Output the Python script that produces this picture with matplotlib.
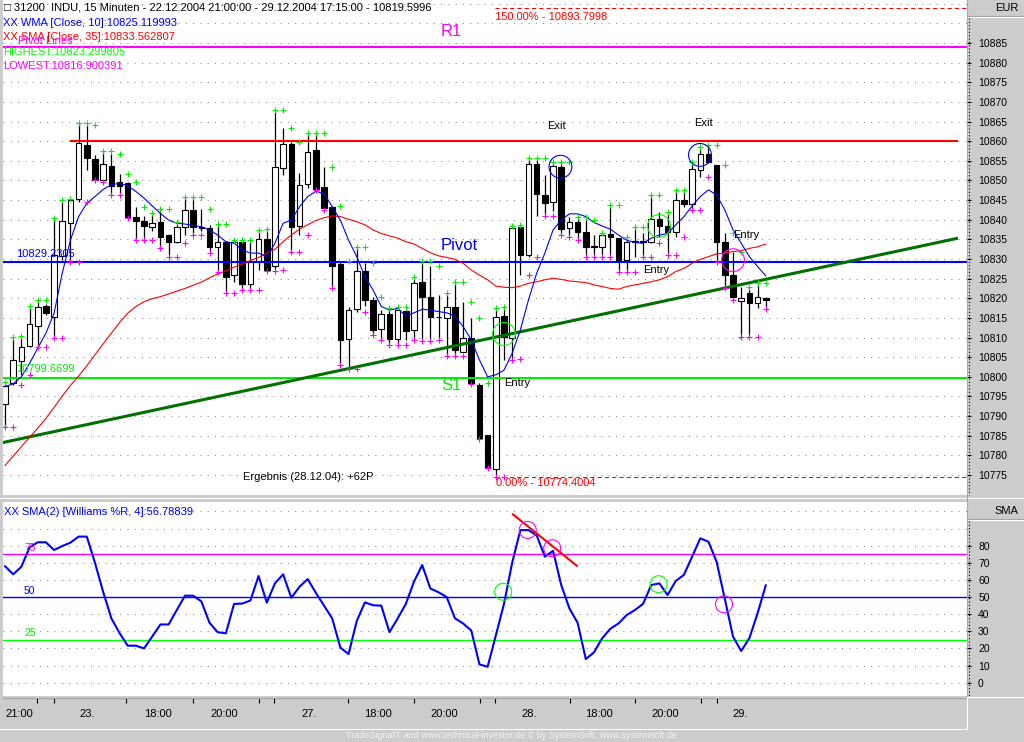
import numpy as np
import pandas as pd
import matplotlib
matplotlib.use('Agg')
import matplotlib.pyplot as plt
from matplotlib.lines import Line2D

# ---------------- data ----------------
opens = [10793.1, 10798.3, 10803.9, 10807.9, 10813.0, 10818.0, 10815.3, 10830.8, 10839.1, 10845.3,
         10859.0, 10855.4, 10850.0, 10853.7, 10849.7, 10849.3, 10840.8, 10839.7, 10838.2, 10839.3,
         10836.1, 10834.4, 10838.1, 10842.5, 10838.2, 10837.8, 10833.1, 10834.3, 10825.9, 10834.3,
         10823.6, 10829.6, 10835.2, 10828.2, 10853.1, 10859.3, 10838.5, 10849.0, 10857.8, 10848.3,
         10843.2, 10828.7, 10809.5, 10817.2, 10827.0, 10819.6, 10812.1, 10815.9, 10809.7, 10816.8,
         10811.9, 10824.1, 10820.2, 10815.3, 10814.9, 10817.9, 10806.4, 10809.8, 10797.9, 10785.2,
         10776.5, 10815.5, 10809.8, 10838.2, 10830.9, 10854.2, 10846.3, 10844.4, 10853.5, 10837.8,
         10839.5, 10836.8, 10833.4, 10833.1, 10836.4, 10835.3, 10829.8, 10834.3, 10834.5, 10834.2,
         10840.2, 10838.5, 10836.8, 10845.0, 10843.9, 10852.7, 10856.7, 10853.9, 10834.4, 10825.9,
         10819.4, 10821.3, 10818.7, 10820.0]
highs = [10798.8, 10810.1, 10810.4, 10818.1, 10819.6, 10818.5, 10840.4, 10845.0, 10845.2, 10864.6,
         10864.1, 10856.5, 10857.6, 10856.7, 10851.7, 10849.6, 10843.3, 10841.0, 10841.6, 10842.7,
         10836.3, 10839.5, 10845.9, 10845.9, 10842.7, 10838.7, 10838.9, 10834.6, 10834.8, 10834.8,
         10834.8, 10837.4, 10837.6, 10868.0, 10863.3, 10859.7, 10852.0, 10862.0, 10862.0, 10853.5,
         10843.5, 10829.5, 10817.9, 10833.1, 10829.0, 10820.4, 10817.0, 10817.4, 10817.7, 10817.0,
         10825.5, 10829.6, 10828.1, 10820.8, 10821.3, 10824.2, 10819.1, 10814.9, 10798.5, 10785.2,
         10817.4, 10817.7, 10838.5, 10838.7, 10855.6, 10855.6, 10851.4, 10854.8, 10854.8, 10840.8,
         10840.6, 10840.0, 10836.1, 10836.5, 10843.8, 10835.3, 10835.7, 10838.2, 10836.5, 10846.3,
         10841.9, 10841.6, 10847.6, 10847.6, 10854.8, 10858.6, 10859.0, 10854.0, 10836.5, 10831.9,
         10822.8, 10822.8, 10823.8, 10820.2]
lows = [10787.3, 10797.9, 10800.4, 10807.7, 10807.7, 10815.7, 10809.8, 10829.8, 10829.3, 10844.6,
        10852.7, 10850.0, 10849.7, 10846.3, 10846.3, 10840.4, 10834.8, 10834.8, 10837.2, 10832.7,
        10830.6, 10834.0, 10836.1, 10836.1, 10837.0, 10831.6, 10826.8, 10821.3, 10824.2, 10822.1,
        10822.1, 10827.2, 10826.9, 10827.2, 10851.4, 10831.9, 10836.2, 10848.0, 10847.6, 10842.5,
        10822.7, 10803.0, 10801.9, 10816.5, 10818.0, 10810.7, 10809.4, 10808.1, 10808.1, 10809.4,
        10809.4, 10809.2, 10809.4, 10809.4, 10805.3, 10805.3, 10806.4, 10798.1, 10784.2, 10776.7,
        10774.4, 10804.3, 10804.5, 10825.9, 10830.6, 10841.0, 10841.0, 10842.1, 10836.1, 10835.5,
        10834.8, 10830.6, 10830.6, 10830.6, 10830.6, 10826.8, 10826.8, 10830.6, 10830.6, 10834.0,
        10835.7, 10831.0, 10835.7, 10843.3, 10842.5, 10850.8, 10854.4, 10829.3, 10822.5, 10819.6,
        10810.1, 10810.1, 10817.4, 10817.2]
closes = [10797.7, 10804.2, 10807.7, 10813.4, 10817.7, 10816.2, 10830.9, 10839.7, 10845.0, 10859.5,
          10855.6, 10850.1, 10854.2, 10848.6, 10848.6, 10840.8, 10839.8, 10838.5, 10839.1, 10835.5,
          10834.4, 10838.1, 10842.5, 10838.1, 10838.0, 10833.1, 10834.3, 10825.5, 10834.3, 10823.6,
          10829.6, 10835.0, 10827.2, 10853.5, 10859.2, 10838.2, 10848.8, 10857.3, 10847.7, 10843.1,
          10828.3, 10809.4, 10817.0, 10827.0, 10819.6, 10811.8, 10815.9, 10809.7, 10817.0, 10811.7,
          10824.0, 10820.2, 10815.3, 10815.2, 10817.9, 10806.8, 10809.8, 10798.3, 10784.3, 10776.7,
          10815.2, 10810.2, 10838.0, 10831.0, 10854.2, 10846.5, 10844.2, 10853.7, 10837.6, 10839.5,
          10836.8, 10833.1, 10833.1, 10836.1, 10835.5, 10829.8, 10834.4, 10834.5, 10834.3, 10840.2,
          10838.5, 10836.8, 10845.0, 10843.9, 10852.9, 10856.7, 10854.6, 10834.4, 10825.8, 10820.4,
          10820.0, 10818.7, 10820.2, 10819.6]
wma10 = [10797.5, 10798.2, 10800.0, 10803.4, 10807.3, 10811.1, 10816.2, 10826.4, 10834.8, 10840.8,
         10844.2, 10845.9, 10847.7, 10848.9, 10849.3, 10848.6, 10847.2, 10845.5, 10843.5, 10841.6,
         10839.9, 10839.1, 10838.9, 10838.5, 10838.2, 10837.4, 10836.1, 10834.4, 10834.0, 10832.3,
         10831.5, 10831.5, 10830.6, 10834.0, 10839.1, 10839.9, 10843.3, 10845.9, 10847.2, 10846.7,
         10843.3, 10839.9, 10834.8, 10830.6, 10825.5, 10822.1, 10817.9, 10817.0, 10817.4, 10815.5,
         10816.3, 10817.2, 10817.0, 10816.6, 10816.3, 10815.5, 10812.8, 10809.4, 10804.3, 10800.0,
         10800.5, 10801.7, 10806.0, 10811.9, 10819.6, 10826.4, 10831.5, 10837.4, 10839.9, 10841.5,
         10841.5, 10840.8, 10839.3, 10838.4, 10837.6, 10836.1, 10834.8, 10834.2, 10834.0, 10835.3,
         10836.1, 10836.5, 10838.7, 10840.8, 10843.5, 10845.9, 10847.6, 10846.3, 10842.5, 10837.4,
         10834.0, 10830.6, 10828.1, 10825.7]
sma35 = [10777.4, 10779.8, 10782.2, 10784.6, 10786.9, 10789.4, 10792.2, 10795.1, 10797.8, 10800.2,
         10802.8, 10805.6, 10808.4, 10811.1, 10813.8, 10816.2, 10817.9, 10819.1, 10819.9, 10820.4,
         10821.1, 10821.8, 10822.5, 10823.3, 10824.1, 10825.2, 10826.2, 10827.0, 10827.9, 10828.7,
         10829.6, 10830.4, 10831.5, 10832.5, 10834.4, 10836.1, 10837.6, 10838.7, 10839.8, 10840.5,
         10841.0, 10840.8, 10840.1, 10839.5, 10838.7, 10837.4, 10836.5, 10835.9, 10835.3, 10834.4,
         10833.8, 10832.7, 10831.6, 10830.8, 10830.4, 10829.9, 10828.9, 10827.2, 10825.9, 10824.7,
         10823.1, 10822.8, 10822.7, 10823.1, 10823.8, 10824.2, 10824.7, 10825.1, 10824.8, 10824.4,
         10824.2, 10824.0, 10823.4, 10823.0, 10822.5, 10822.3, 10823.0, 10823.4, 10823.8, 10824.2,
         10824.7, 10825.5, 10826.8, 10827.6, 10828.9, 10829.9, 10830.6, 10831.3, 10831.5, 10831.9,
         10832.1, 10832.7, 10833.1, 10833.8]
willr_sma2 = [68, 63.3, 67.7, 79, 82, 82, 77.5, 79.8, 81.8, 85.3,
              85.3, 70, 53, 37.6, 29, 21.6, 21.6, 20, 27, 34,
              34, 42.4, 50.8, 50.8, 47.5, 35, 29.5, 28.8, 46, 46.2,
              48, 62.3, 46.7, 58, 63.3, 49.6, 56, 60.5, 52.5, 45,
              37.5, 20.5, 16.7, 36, 46.9, 45.2, 45, 29.5, 37.5, 46,
              59, 68.7, 55, 52.8, 50, 37.6, 34.6, 30.5, 10.7, 9.3,
              27.5, 46, 70, 89.1, 89.1, 86, 73.6, 77, 57, 43.4,
              35, 13.8, 17.7, 25.9, 31.5, 34.6, 39.5, 42.4, 46, 57,
              58, 51.2, 59.4, 63, 73.6, 84.3, 82.3, 70.5, 48.9, 26.9,
              18.5, 26, 40.5, 56.8]

R1 = 10884.0
pivot = 10829.2305
S1 = 10799.6699
resistance = 10860.0
resistance_span = [7.95, 116.5]
fib_150 = 10893.7998
fib_0 = 10774.4004
fib_start = 59.9
trend_x = [-0.61, 116.5]
trend_y = [10783.1, 10835.3]

main_circ_x = [61.0, 67.9, 79.95, 84.96, 89.0]
main_circ_y = [10810.9, 10853.5, 10838.4, 10856.5, 10829.7]
main_circ_c = ['#00ff00', '#0000ff', '#00ff00', '#0000ff', '#ff00ff']
ind_circ_x = [60.9, 63.9, 66.9, 79.9, 87.9]
ind_circ_y = [53.1, 89.2, 78.5, 57.5, 45.8]
ind_circ_c = ['#00ff00', '#ff00ff', '#ff00ff', '#00ff00', '#ff00ff']
ind_red_x = [62.1, 69.9]
ind_red_y = [98.3, 68.3]

time_ticks = [3.91, 5.99, 14.79, 22.98, 31.05, 32.89, 41.93, 50.0, 58.07, 59.9, 69.07, 77.02, 85.09, 87.04]
time_label_pos = [1.8, 10.1, 18.7, 26.8, 37.2, 45.6, 53.7, 64.1, 72.6, 80.7, 89.9]
time_labels = ['21:00', '23.', '18:00', '20:00', '27.', '18:00', '20:00', '28.', '18:00', '20:00', '29.']

price_ticks = list(range(10775, 10890, 5))
price_grid = list(range(10775, 10900, 5))
ind_ticks = list(range(0, 90, 10))
ind_grid = list(range(0, 110, 10))

# ---------------- figure ----------------
W, H = 1024, 742
BG = '#cccccc'
NARROW = ['Liberation Sans Narrow', 'DejaVu Sans Condensed', 'Liberation Sans', 'DejaVu Sans']
SANS = ['Liberation Sans', 'DejaVu Sans']

fig = plt.figure(figsize=(W / 100, H / 100), dpi=100)
fig.patch.set_facecolor(BG)


def frect(x0, y0, x1, y1):
    return [x0 / W, 1 - y1 / H, (x1 - x0) / W, (y1 - y0) / H]


def ptext(x, y, s, **kw):
    kw.setdefault('va', 'center')
    kw.setdefault('family', NARROW)
    kw.setdefault('fontsize', 8)
    fig.text(x / W, 1 - y / H, s, **kw)


def fline(xs, ys, **kw):
    fig.add_artist(Line2D([x / W for x in xs], [1 - y / H for y in ys],
                          transform=fig.transFigure, **kw))


XLIM = ((3 - 5) / 8.18, (967 - 5) / 8.18)

ax = fig.add_axes(frect(3, 0, 967, 495))
axi = fig.add_axes(frect(3, 502, 967, 696))
axx = fig.add_axes(frect(3, 697, 967, 729))

for a in (ax, axi, axx):
    for s in a.spines.values():
        s.set_visible(False)
    a.set_xlim(*XLIM)
    a.set_xticks([])
ax.set_facecolor('white')
axi.set_facecolor('white')
axx.set_facecolor(BG)

DOT = (0, (1, 6))

# ---- main panel ----
ax.set_ylim(10769.9, 10895.95)
ax.hlines(price_grid, XLIM[0], XLIM[1], colors='#8a8a8a', linestyles=DOT, lw=0.75, zorder=1)

idx = np.arange(len(closes))
o = np.array(opens); c = np.array(closes); h = np.array(highs); l = np.array(lows)
up = c >= o
ax.vlines(idx, l, h, colors='black', lw=0.9, zorder=3)
bot = np.minimum(o, c)
bh = np.maximum(np.abs(c - o), 0.15)
ax.bar(idx[up], bh[up], bottom=bot[up], width=0.68, facecolor='white', edgecolor='black', lw=0.8, zorder=4)
ax.bar(idx[~up], bh[~up], bottom=bot[~up], width=0.68, facecolor='black', edgecolor='black', lw=0.8, zorder=4)

ax.axhline(R1, color='#ff00ff', lw=1.5, zorder=5)
ax.hlines(resistance, resistance_span[0], resistance_span[1], color='#ff0000', lw=1.5, zorder=5)
ax.axhline(pivot, color='#0000ff', lw=1.5, zorder=5)
ax.axhline(S1, color='#00ee00', lw=1.5, zorder=5)
ax.hlines([fib_150, fib_0], fib_start, XLIM[1], colors='#ff0000', linestyles=(0, (4, 3)), lw=0.75, zorder=5)
ax.plot(trend_x, trend_y, color='#007000', lw=2.2, zorder=5, solid_capstyle='butt')
ax.plot(idx, sma35, color='#ff0000', lw=0.8, zorder=6)
ax.plot(idx, wma10, color='#0000ff', lw=0.8, zorder=6)

hi_mark = pd.Series(highs).rolling(2, min_periods=1).max()
lo_mark = pd.Series(lows).rolling(2, min_periods=1).min()
ax.plot(idx, hi_mark, ls='none', marker='+', color='#00ee00', ms=4, mew=0.8, zorder=7)
ax.plot(idx, lo_mark, ls='none', marker='+', color='#ff00ff', ms=4, mew=0.8, zorder=7)

ax.scatter(main_circ_x, main_circ_y, s=270, facecolors='none', edgecolors=main_circ_c, lw=0.8, zorder=8)

ax.yaxis.tick_right()
ax.set_yticks(price_ticks)
ax.set_yticklabels([str(v) for v in price_ticks])
ax.tick_params(axis='y', direction='out', length=3, width=0.8, pad=5, labelsize=7.5, colors='black')
for t in ax.get_yticklabels():
    t.set_family(SANS)

# ---- indicator panel ----
axi.set_ylim(-7.77, 105.52)
axi.hlines(ind_grid, XLIM[0], XLIM[1], colors='#8a8a8a', linestyles=DOT, lw=0.75, zorder=1)
axi.axhline(75, color='#ff00ff', lw=1.0, zorder=2)
axi.axhline(50, color='#0000ff', lw=1.0, zorder=2)
axi.axhline(25, color='#00ff00', lw=1.0, zorder=2)
axi.plot(idx, willr_sma2, color='#0000ff', lw=1.5, zorder=4)
axi.plot(ind_red_x, ind_red_y, color='#ff0000', lw=1.5, zorder=5)
axi.scatter(ind_circ_x, ind_circ_y, s=150, facecolors='none', edgecolors=ind_circ_c, lw=0.8, zorder=6)
axi.yaxis.tick_right()
axi.set_yticks(ind_ticks)
axi.set_yticklabels([str(v) for v in ind_ticks])
axi.tick_params(axis='y', direction='out', length=3, width=0.8, pad=5, labelsize=7.5, colors='black')
for t in axi.get_yticklabels():
    t.set_family(SANS)

# ---- time axis strip ----
axx.set_ylim(0, 1)
axx.set_yticks([])
axx.vlines(time_ticks, 0.80, 0.97, colors='black', lw=0.8)
for p, s in zip(time_label_pos, time_labels):
    axx.text(p, 0.48, s, ha='center', va='center', fontsize=8, family=NARROW)

# ---- frame decorations ----
fline([969, 969], [18, 495], color='black', lw=0.8, ls=(0, (1, 2)))
fline([969, 969], [521, 696], color='black', lw=0.8, ls=(0, (1, 2)))
fline([967, 1024], [16, 16], color='#a0a0a0', lw=0.8)
fline([967, 1024], [17, 17], color='white', lw=0.8)
fline([967, 1024], [519, 519], color='#a0a0a0', lw=0.8)
fline([967, 1024], [520, 520], color='white', lw=0.8)
fline([0, 1024], [498, 498], color='white', lw=0.8)
fline([967, 967], [0, 729], color='#a8a8a8', lw=0.8)
fline([3, 967], [697.5, 697.5], color='#a0a0a0', lw=0.8)
fline([0, 967], [729, 729], color='white', lw=0.8)
fline([967, 967], [697, 729], color='white', lw=0.8)
fline([967, 1024], [696.5, 696.5], color='white', lw=0.8)

# ---- texts ----
ptext(4, 8, '□ 31200  INDU, 15 Minuten - 22.12.2004 21:00:00 - 29.12.2004 17:15:00 - 10819.5996', color='black')
ptext(3, 23, 'XX WMA [Close, 10]:10825.119993', color='#0000ff')
ptext(3, 37, 'XX SMA [Close, 35]:10833.562807', color='#ff0000')
ptext(18, 41, 'Pivot Lines', color='#ff00ff')
ptext(3, 52, 'HIGHEST:10823.299805', color='#00ff00')
ptext(3, 66, 'LOWEST:10816.900391', color='#ff00ff')
ptext(1018, 8, 'EUR', ha='right', color='black', family=SANS)
ptext(1018, 511, 'SMA', ha='right', color='black', family=SANS)

ptext(441, 31, 'R1', color='#ff00ff', fontsize=12, family=SANS)
ptext(441, 245, 'Pivot', color='#0000ff', fontsize=12, family=SANS)
ptext(441, 386, 'S1', color='#00ee00', fontsize=12, family=SANS)
ptext(495, 17, '150.00% - 10893.7998', color='#ff0000')
ptext(496, 483, '0.00% - 10774.4004', color='#ff0000')
ptext(556, 126, 'Exit', ha='center', color='black', family=SANS)
ptext(703, 123, 'Exit', ha='center', color='black', family=SANS)
ptext(504, 383, 'Entry', color='black', family=SANS)
ptext(643, 270, 'Entry', color='black', family=SANS)
ptext(733, 235, 'Entry', color='black', family=SANS)
ptext(243, 477, 'Ergebnis (28.12.04): +62P', color='black', family=SANS)
ptext(16, 254, '10829.2305', color='#0000ff')
ptext(16, 369, '10799.6699', color='#00ee00')

ptext(4, 512, 'XX SMA(2) [Williams %R, 4]:56.78839', color='#0000ff')
ptext(24, 548, '75', color='#ff00ff', fontsize=7.5)
ptext(24, 591, '50', color='#0000ff', fontsize=7.5)
ptext(24, 633, '25', color='#00ee00', fontsize=7.5)

ptext(511, 735, 'TradeSignal® and www.technical-investor.de © by SystemSoft, www.systemsoft.de',
      ha='center', color='#f2f2f2', fontsize=6.5)

fig.savefig('out.png', dpi=100, facecolor=BG)
